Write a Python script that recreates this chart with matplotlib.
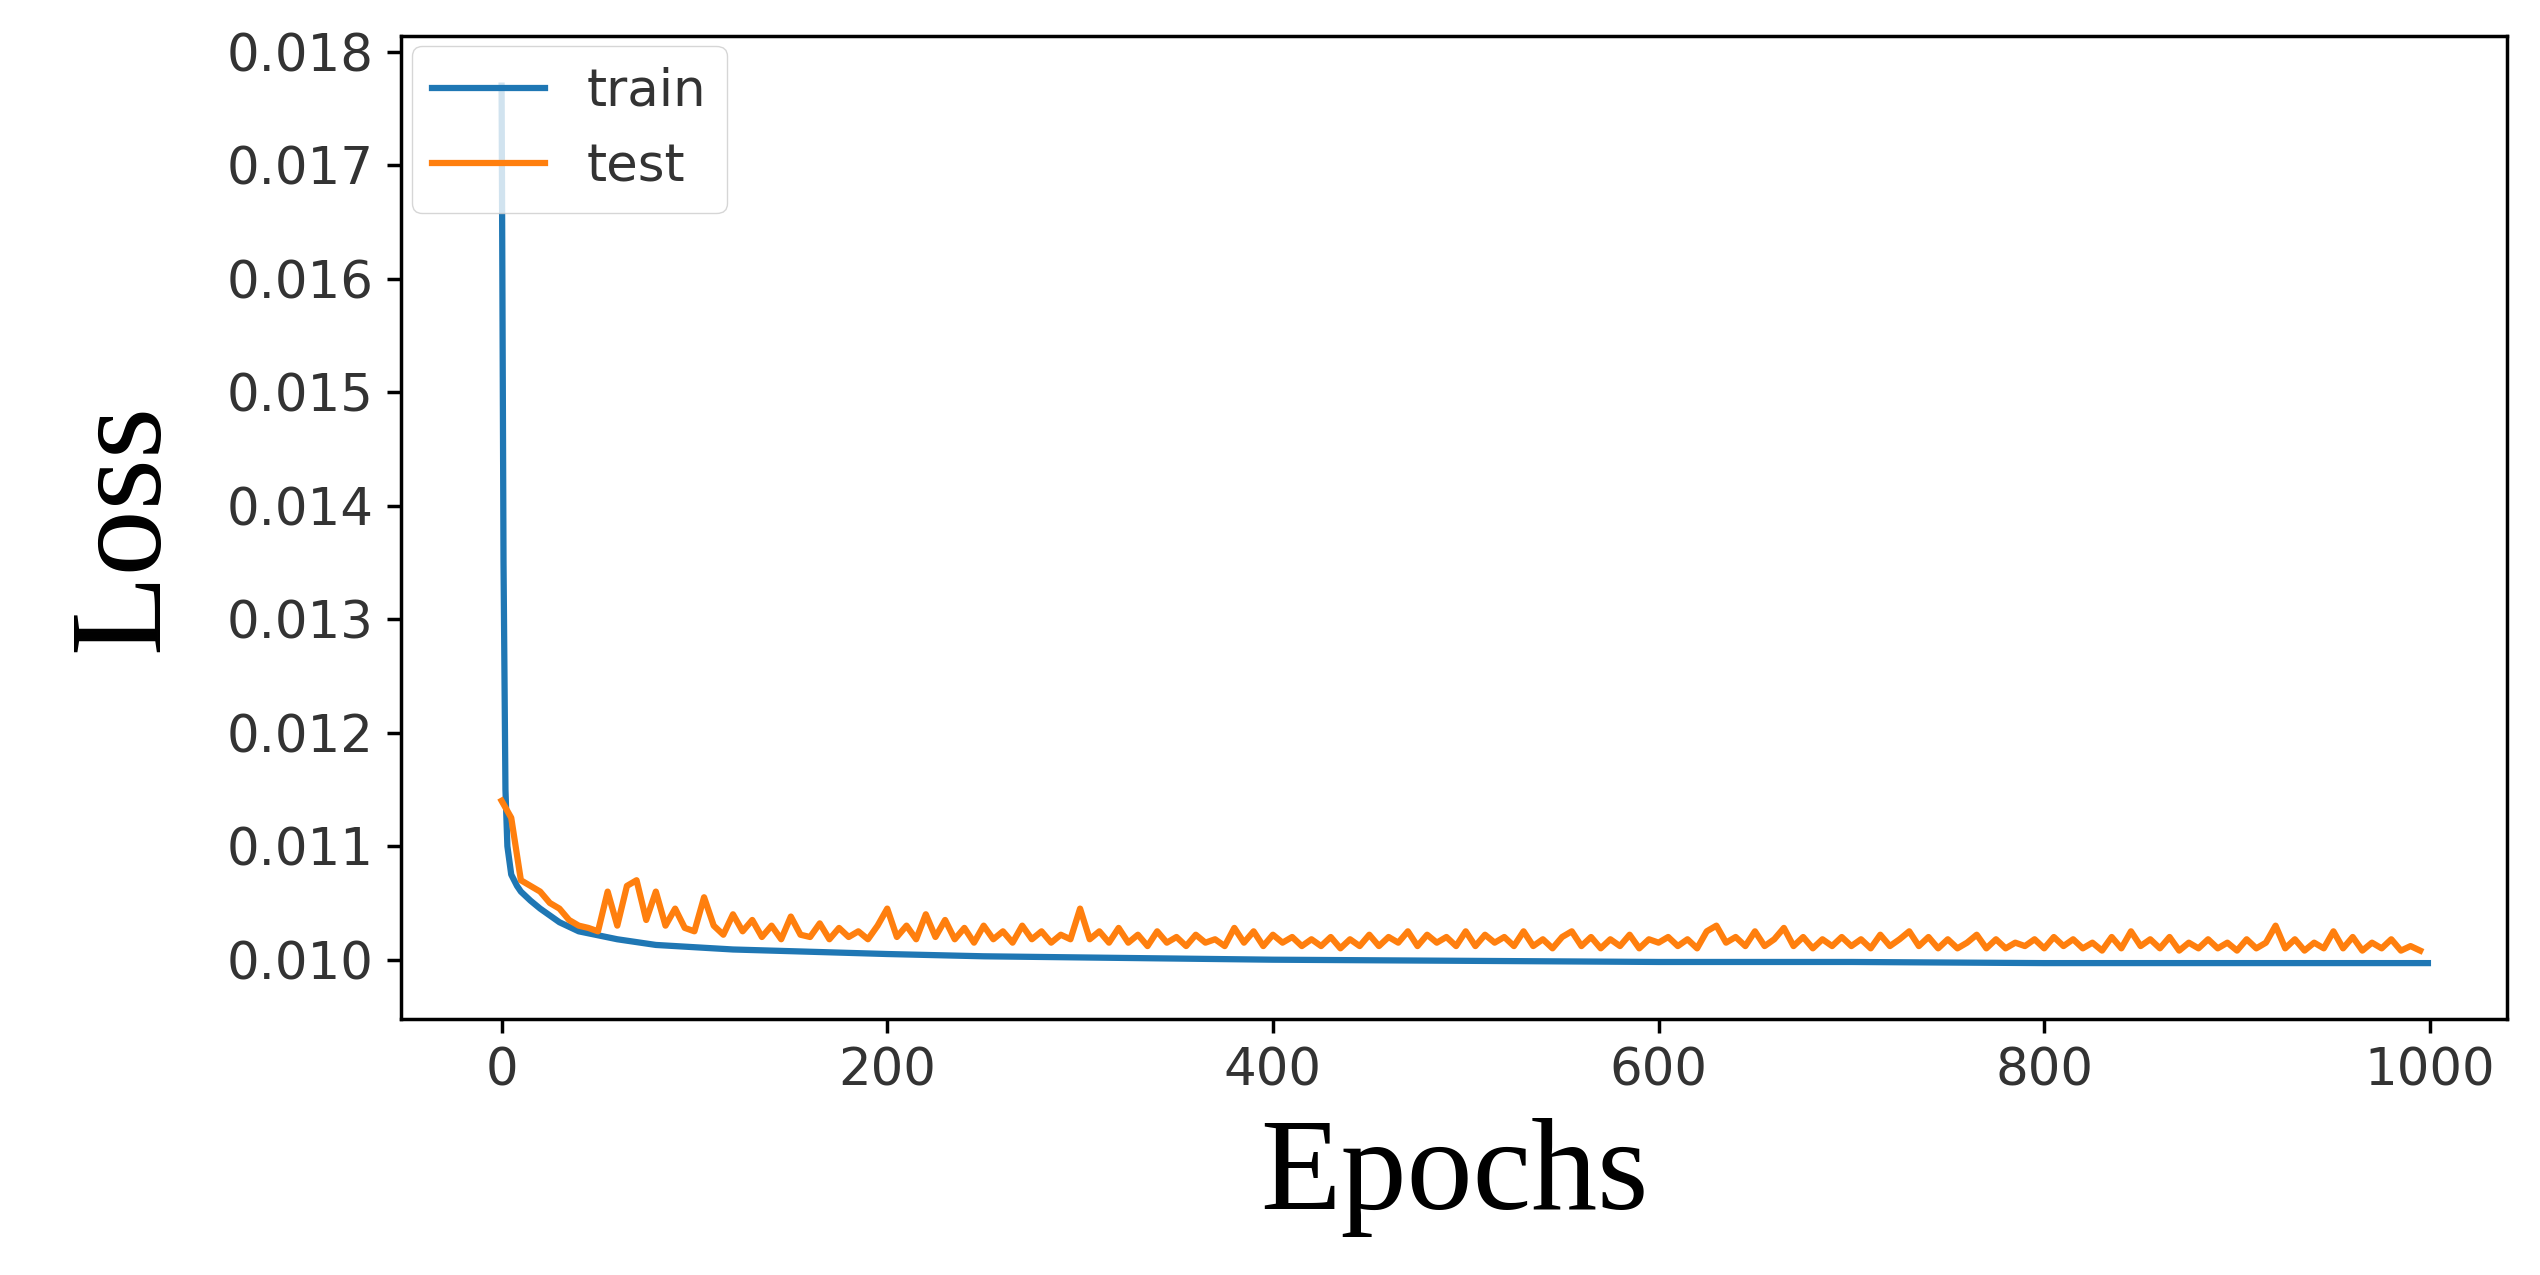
import matplotlib
matplotlib.use("Agg")
import matplotlib.pyplot as plt
import numpy as np

train_epochs = [0, 1, 2, 3, 5, 8, 10, 15, 20, 30, 40, 60, 80, 120, 160, 200, 250, 300, 400, 500, 600, 700, 800, 900, 999]
train_loss = [0.0177, 0.0135, 0.0115, 0.0110, 0.01075, 0.01065, 0.0106, 0.01052, 0.01045, 0.01033, 0.01025, 0.01018,
              0.01013, 0.01009, 0.01007, 0.01005, 0.01003, 0.01002, 0.01000, 0.00999, 0.00998, 0.00998, 0.00997, 0.00997, 0.00997]

test_epochs = list(range(0, 1000, 5))
test_loss = [
 0.01140,0.01125,0.01070,0.01065,0.01060,0.01050,0.01045,0.01035,0.01030,0.01028,0.01025,0.01060,0.01030,0.01065,0.01070,0.01035,0.01060,0.01030,0.01045,0.01028,
 0.01025,0.01055,0.01030,0.01022,0.01040,0.01025,0.01035,0.01020,0.01030,0.01018,0.01038,0.01022,0.01020,0.01032,0.01018,0.01028,0.01020,0.01025,0.01018,0.01030,
 0.01045,0.01020,0.01030,0.01018,0.01040,0.01020,0.01035,0.01018,0.01028,0.01015,0.01030,0.01018,0.01025,0.01015,0.01030,0.01018,0.01025,0.01015,0.01022,0.01018,
 0.01045,0.01018,0.01025,0.01015,0.01028,0.01015,0.01022,0.01012,0.01025,0.01015,0.01020,0.01012,0.01022,0.01015,0.01018,0.01012,0.01028,0.01015,0.01025,0.01012,
 0.01022,0.01015,0.01020,0.01012,0.01018,0.01012,0.01020,0.01010,0.01018,0.01012,0.01022,0.01012,0.01020,0.01015,0.01025,0.01012,0.01022,0.01015,0.01020,0.01012,
 0.01025,0.01012,0.01022,0.01015,0.01020,0.01012,0.01025,0.01012,0.01018,0.01010,0.01020,0.01025,0.01012,0.01020,0.01010,0.01018,0.01012,0.01022,0.01010,0.01018,
 0.01015,0.01020,0.01012,0.01018,0.01010,0.01025,0.01030,0.01015,0.01020,0.01012,0.01025,0.01012,0.01018,0.01028,0.01012,0.01020,0.01010,0.01018,0.01012,0.01020,
 0.01012,0.01018,0.01010,0.01022,0.01012,0.01018,0.01025,0.01012,0.01020,0.01010,0.01018,0.01010,0.01015,0.01022,0.01010,0.01018,0.01010,0.01015,0.01012,0.01018,
 0.01010,0.01020,0.01012,0.01018,0.01010,0.01015,0.01008,0.01020,0.01010,0.01025,0.01012,0.01018,0.01010,0.01020,0.01008,0.01015,0.01010,0.01018,0.01010,0.01015,
 0.01008,0.01018,0.01010,0.01015,0.01030,0.01010,0.01018,0.01008,0.01015,0.01010,0.01025,0.01010,0.01020,0.01008,0.01015,0.01010,0.01018,0.01008,0.01012,0.01008,
]

fig = plt.figure(figsize=(25.4, 12.75), dpi=100)
ax = fig.add_axes([0.158, 0.201, 0.829, 0.771])
ax.plot(train_epochs, train_loss, color="#1f77b4", lw=4.5, label="train")
ax.plot(test_epochs, test_loss, color="#ff7f0e", lw=4.5, label="test")
ax.set_xlim(-52, 1040)
ax.set_ylim(0.00948, 0.01814)
ax.set_xticks([0, 200, 400, 600, 800, 1000])
ax.set_yticks([0.010, 0.011, 0.012, 0.013, 0.014, 0.015, 0.016, 0.017, 0.018])
ax.yaxis.set_major_formatter(matplotlib.ticker.FormatStrFormatter("%.3f"))
ax.tick_params(labelsize=37, labelcolor="#333333", width=2.5, length=10, pad=10)
for s in ax.spines.values():
    s.set_linewidth(2.5)
ax.set_xlabel("Epochs", family="Liberation Serif", fontsize=95, labelpad=15)
ax.set_ylabel("Loss", family="Liberation Serif", fontsize=95, labelpad=30)
leg = ax.legend(loc="upper left", fontsize=37, borderaxespad=0.2, handlelength=2.2)
for t in leg.get_texts():
    t.set_color("#333333")
fig.savefig("out.png", dpi=100)
